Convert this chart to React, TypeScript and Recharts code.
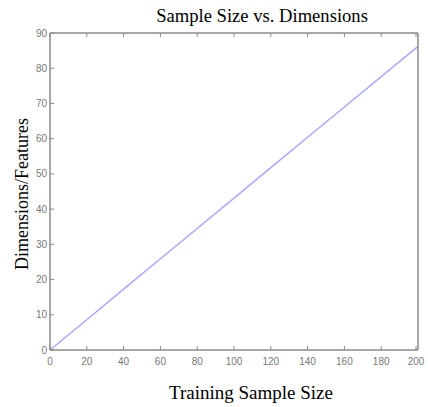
import React from "react";
import { LineChart, Line, XAxis, YAxis } from "recharts";

// values
const sampleSizes = [0, 20, 40, 60, 80, 100, 120, 140, 160, 180, 200];
const dimensions = [0, 8.6, 17.3, 25.9, 34.5, 43.1, 51.8, 60.4, 69, 77.6, 86.2];
const xTicks = [0, 20, 40, 60, 80, 100, 120, 140, 160, 180, 200];
const yTicks = [0, 10, 20, 30, 40, 50, 60, 70, 80, 90];

const title = "Sample Size vs. Dimensions";
const xTitle = "Training Sample Size";
const yTitle = "Dimensions/Features";

const data = sampleSizes.map((s, i) => ({ size: s, dim: dimensions[i] }));

const axisColor = "#8a8a8a";
const labelColor = "#777";
const serif = "'Liberation Serif', 'Times New Roman', serif";
const sans = "'Liberation Sans', Arial, sans-serif";

const BottomTick = (props: any) => {
  const { x, y, payload } = props;
  return (
    <g>
      <line x1={x} x2={x} y1={y} y2={y - 4} stroke={axisColor} strokeWidth={1} />
      <text x={x} y={y + 15} textAnchor="middle" fontSize={10} fill={labelColor} fontFamily={sans}>
        {payload.value}
      </text>
    </g>
  );
};

const TopTick = (props: any) => {
  const { x, y } = props;
  return <line x1={x} x2={x} y1={y} y2={y + 4} stroke={axisColor} strokeWidth={1} />;
};

const LeftTick = (props: any) => {
  const { x, y, payload } = props;
  return (
    <g>
      <line x1={x} x2={x + 4} y1={y} y2={y} stroke={axisColor} strokeWidth={1} />
      <text x={x - 3} y={y + 3.5} textAnchor="end" fontSize={10} fill={labelColor} fontFamily={sans}>
        {payload.value}
      </text>
    </g>
  );
};

const RightTick = (props: any) => {
  const { x, y } = props;
  return <line x1={x} x2={x - 4} y1={y} y2={y} stroke={axisColor} strokeWidth={1} />;
};

export default function App() {
  return (
    <div style={{ position: "absolute", left: 0, top: 0, width: 428, height: 407, background: "#fff" }}>
      <LineChart
        width={428}
        height={407}
        data={data}
        margin={{ top: 23, right: 0, bottom: 0, left: 0 }}
      >
        <XAxis
          xAxisId="bottom"
          dataKey="size"
          type="number"
          domain={[0, 200]}
          ticks={xTicks}
          height={57}
          tickSize={0}
          tickMargin={0}
          tick={<BottomTick />}
          axisLine={{ stroke: axisColor, strokeWidth: 1.5 }}
          tickLine={false}
        />
        <XAxis
          xAxisId="top"
          orientation="top"
          dataKey="size"
          type="number"
          domain={[0, 200]}
          ticks={xTicks}
          height={10}
          tickSize={0}
          tickMargin={0}
          tick={<TopTick />}
          axisLine={{ stroke: axisColor, strokeWidth: 1.5 }}
          tickLine={false}
        />
        <YAxis
          yAxisId="left"
          type="number"
          domain={[0, 90]}
          ticks={yTicks}
          width={50}
          tickSize={0}
          tickMargin={0}
          tick={<LeftTick />}
          axisLine={{ stroke: axisColor, strokeWidth: 1.5 }}
          tickLine={false}
        />
        <YAxis
          yAxisId="right"
          orientation="right"
          type="number"
          domain={[0, 90]}
          ticks={yTicks}
          width={10}
          tickSize={0}
          tickMargin={0}
          tick={<RightTick />}
          axisLine={{ stroke: axisColor, strokeWidth: 1.5 }}
          tickLine={false}
        />
        <Line
          xAxisId="bottom"
          yAxisId="left"
          type="linear"
          dataKey="dim"
          stroke="#a8a8ff"
          strokeWidth={1.5}
          dot={false}
          isAnimationActive={false}
        />
      </LineChart>
      <svg
        width={428}
        height={407}
        style={{ position: "absolute", left: 0, top: 0, pointerEvents: "none" }}
      >
        <text x={262} y={22} textAnchor="middle" fontSize={18.6} fontFamily={serif} fill="#000">
          {title}
        </text>
        <text x={251} y={399} textAnchor="middle" fontSize={19} fontFamily={serif} fill="#000">
          {xTitle}
        </text>
        <text
          x={0}
          y={0}
          transform="translate(28,194) rotate(-90)"
          textAnchor="middle"
          fontSize={18}
          fontFamily={serif}
          fill="#000"
        >
          {yTitle}
        </text>
      </svg>
    </div>
  );
}
